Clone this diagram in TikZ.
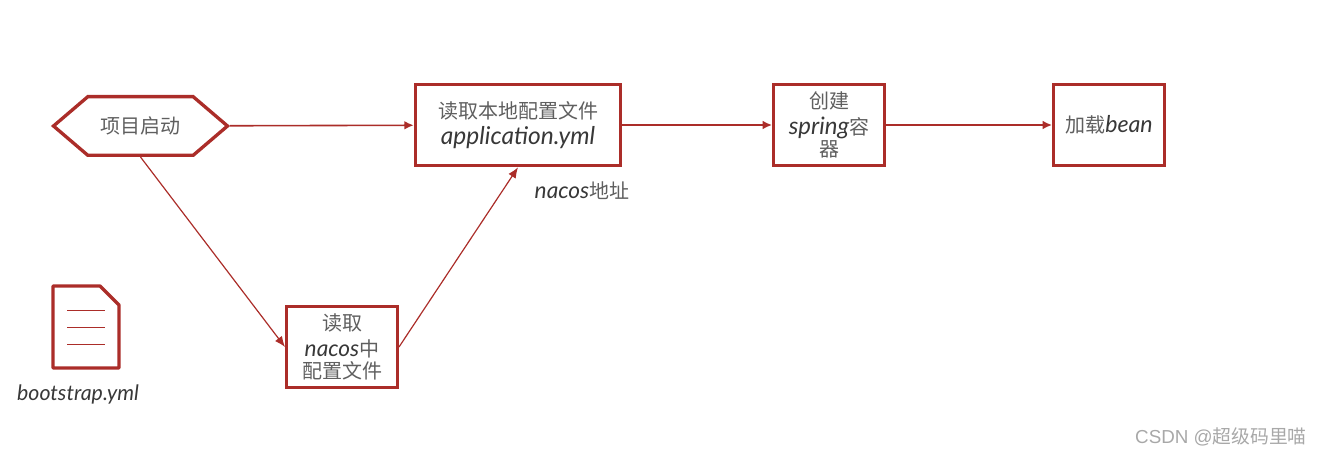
\documentclass[tikz,border=0pt]{standalone}
\usepackage{fontspec}
\usepackage{xcolor}
\setmainfont{Noto Sans CJK SC}
\newfontfamily\handfont{Lato}
\newfontfamily\markfont{Liberation Sans}
\newcommand{\hand}[2]{{\handfont\itshape\fontsize{#1}{#1}\selectfont\color{handgray}#2}}
\definecolor{boxred}{HTML}{AB2D29}
\definecolor{cngray}{HTML}{5F5F5F}
\definecolor{handgray}{HTML}{383838}
\definecolor{markgray}{HTML}{A8A8A8}
\usetikzlibrary{positioning, arrows.meta, shapes.symbols}

\begin{document}
\begin{tikzpicture}[x=0.75pt,y=-0.75pt]
	\tikzstyle{label}=[inner sep=0pt,align=center,text=cngray,font=\fontsize{15}{18.6}\selectfont]
	\tikzstyle{stepbox}=[rectangle,draw=boxred,line width=2.5pt,minimum height=61pt,label]
	\tikzstyle{flow}=[draw=boxred,line width=1.2pt,-{Latex[length=7pt,width=6.5pt]}]
	\tikzstyle{slant}=[draw=boxred,line width=0.9pt,-{Latex[length=8pt,width=6.5pt]}]
	\useasboundingbox (0,0) rectangle (1322,456);
	\node[signal,signal to=east and west,signal pointer angle=81,draw=boxred,line width=2.5pt,minimum width=130.5pt,minimum height=44pt,label](start) at (140.5,126){项目启动};
	\node[stepbox,minimum width=154pt](local) at (518,125){读取本地配置文件\\[1pt]\hand{18.4}{application.yml}};
	\node[stepbox,minimum width=83pt](spring) at (829,125){创建\\[1pt]\hand{18}{spring}容\\[-2pt]器};
	\node[stepbox,minimum width=83pt](bean) at (1109,125){加载\hand{17.4}{bean}};
	\node[stepbox,minimum width=83pt](nacos) at (342,347){读取\\[1pt]\hand{17}{nacos}中\\[-2pt]配置文件};
	\node[label](addr) at (582,191){\hand{17}{nacos}地址};
	\node[inner sep=0pt](bootname) at (78,394){\hand{16}{bootstrap.yml}};
	\node[inner sep=0pt,text=markgray,font=\markfont\fontsize{14.1}{16}\selectfont](mark) at (1221,437){CSDN @\fontspec{Noto Sans CJK SC}超级码里喵};
	\draw[boxred,line width=2.5pt,line join=round] (53,286) -- (100,286) -- (119,305) -- (119,368) -- (53,368) -- cycle;
	\foreach \y in {310,327,344}
		\draw[boxred,line width=0.6pt] (67,\y) -- (105,\y);
	\path
		(start) edge[flow] (local)
		(local) edge[flow] (spring)
		(spring) edge[flow] (bean)
		(start.south) edge[slant] (nacos.west)
		(nacos.east) edge[slant] (local.south);
\end{tikzpicture}
\end{document}
